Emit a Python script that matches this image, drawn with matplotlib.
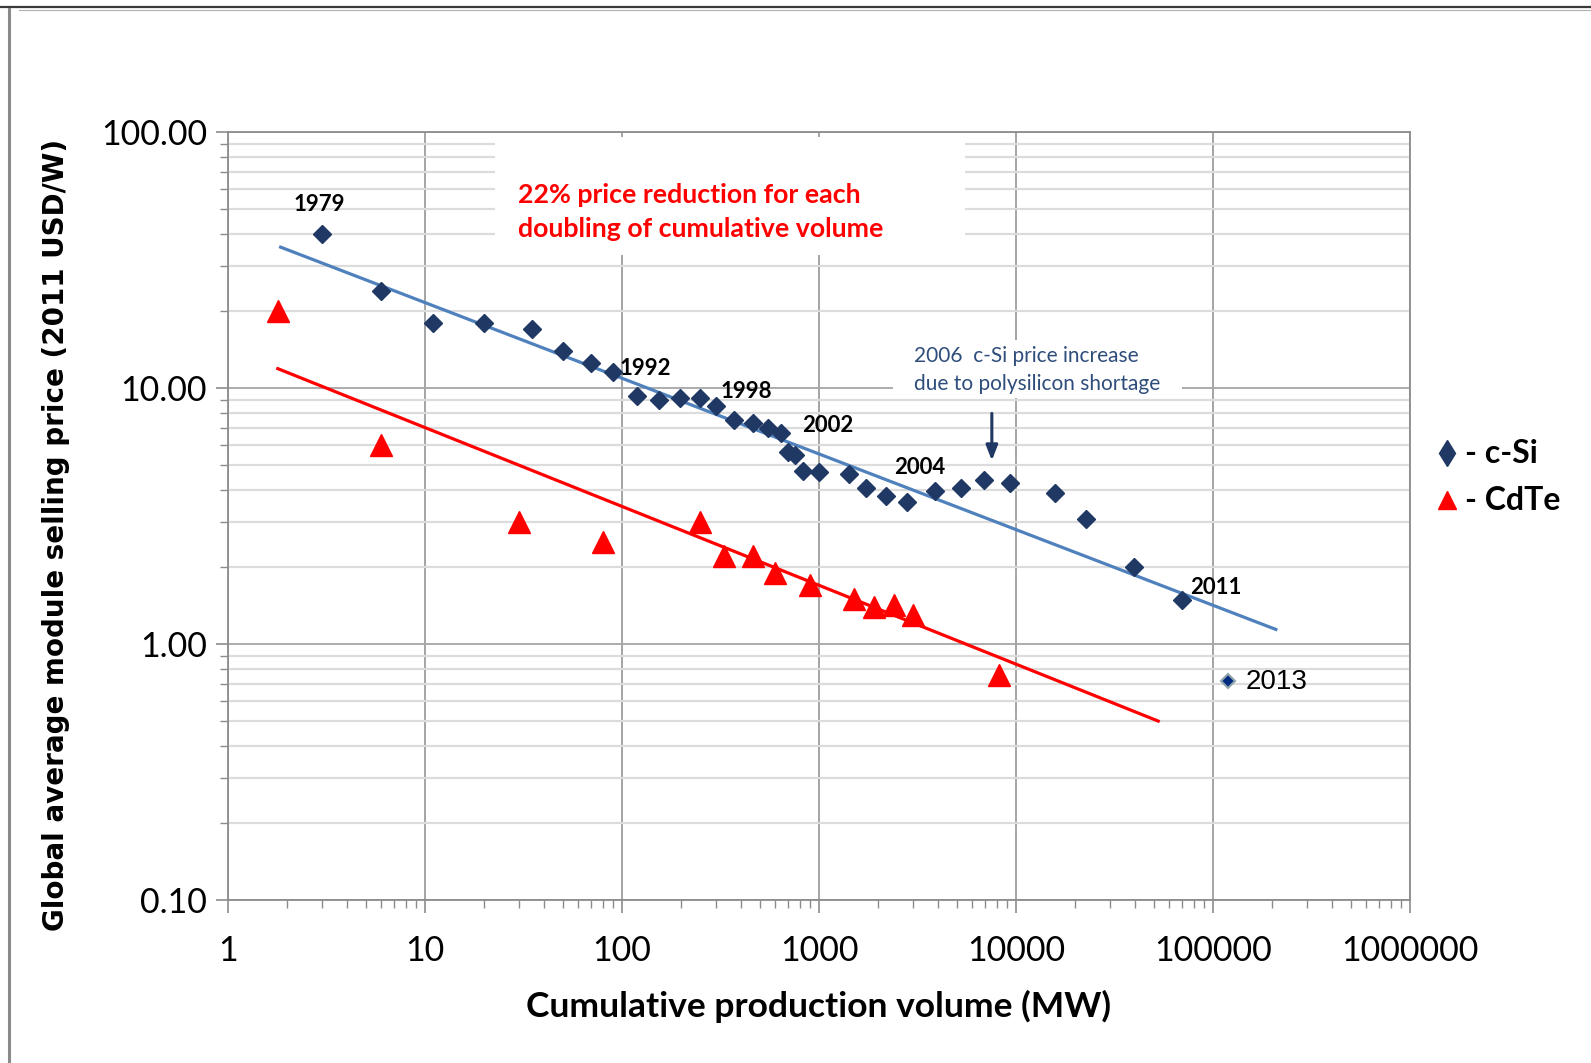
import matplotlib.pyplot as plt
from matplotlib.lines import Line2D
from matplotlib.patches import Rectangle
from matplotlib.ticker import LogLocator, FixedLocator, NullFormatter

# c-Si module prices vs cumulative production (MW, 2011 USD/W)
csi_volume = [3, 6, 11, 20, 35, 50, 70, 90, 119, 154, 198, 248, 300, 371, 465,
              549, 640, 696, 756, 831, 1000, 1417, 1734, 2197, 2786, 3880,
              5285, 6856, 9336, 15730, 22720, 39640, 69200]
csi_price = [40, 24, 18, 18, 17, 14, 12.5, 11.5, 9.3, 9.0, 9.1, 9.1, 8.5, 7.5,
             7.3, 7.0, 6.7, 5.6, 5.45, 4.76, 4.68, 4.6, 4.08, 3.79, 3.59, 3.97,
             4.08, 4.39, 4.27, 3.9, 3.07, 2.0, 1.49]
csi_2013_volume = [119500]
csi_2013_price = [0.72]

cdte_volume = [1.8, 6, 30, 80, 250, 330, 460, 600, 900, 1500, 1900, 2400, 3000, 8200]
cdte_price = [20, 6, 3, 2.5, 3, 2.2, 2.2, 1.9, 1.7, 1.5, 1.4, 1.42, 1.3, 0.76]

# learning-curve trend lines (end points)
csi_trend_x = [1.85, 208500]
csi_trend_y = [35.5, 1.14]
cdte_trend_x = [1.79, 52700]
cdte_trend_y = [11.9, 0.50]

year_labels = ["1979", "1992", "1998", "2002", "2004", "2011"]
year_x = [2.91, 130.7, 428, 1105, 3250, 103600]
year_y = [52.0, 11.97, 9.70, 7.11, 4.89, 1.667]

y_ticks = [0.1, 1, 10, 100]
y_ticklabels = ["0.10", "1.00", "10.00", "100.00"]
x_ticks = [1, 10, 100, 1000, 10000, 100000, 1000000]
x_ticklabels = ["1", "10", "100", "1000", "10000", "100000", "1000000"]

NARROW = ["Lato", "DejaVu Sans"]
NAVY = "#1F3864"

fig = plt.figure(figsize=(15.91, 10.63), dpi=100)
ax = fig.add_axes([228 / 1591, 1 - 900 / 1063, 1182 / 1591, 768 / 1063])

ax.set_xscale("log")
ax.set_yscale("log")
ax.set_xlim(1, 1e6)
ax.set_ylim(0.1, 100)

# grid
ax.yaxis.set_minor_locator(LogLocator(base=10, subs=range(2, 10)))
ax.xaxis.set_minor_locator(LogLocator(base=10, subs=range(2, 10)))
ax.yaxis.set_minor_formatter(NullFormatter())
ax.xaxis.set_minor_formatter(NullFormatter())
ax.grid(which="minor", axis="y", color="#dcdcdc", linewidth=1.6, zorder=0)
ax.grid(which="major", axis="y", color="#a6a6a6", linewidth=1.3, zorder=0)
ax.grid(which="major", axis="x", color="#8c8c8c", linewidth=1.1, zorder=0)
ax.set_axisbelow(True)

ax.xaxis.set_major_locator(FixedLocator(x_ticks))
ax.yaxis.set_major_locator(FixedLocator(y_ticks))
ax.set_xticklabels(x_ticklabels, family=NARROW, fontsize=24.5)
ax.set_yticklabels(y_ticklabels, family=NARROW, fontsize=24.5)
ax.tick_params(which="major", direction="out", length=9, width=1.2, color="#8c8c8c")
ax.tick_params(which="minor", direction="out", length=6, width=1.0, color="#8c8c8c")
ax.tick_params(axis="y", which="major", pad=6)
ax.tick_params(axis="x", which="major", pad=16)
for s in ax.spines.values():
    s.set_color("#8c8c8c")
    s.set_linewidth(1.3)

# white boxes behind the annotations
ax.add_patch(Rectangle((0.226, 0.84), 0.3975, 0.154, transform=ax.transAxes,
                       facecolor="white", edgecolor="none", zorder=1))
ax.add_patch(Rectangle((0.5626, 0.654), 0.2444, 0.075, transform=ax.transAxes,
                       facecolor="white", edgecolor="none", zorder=1))

# trend lines
ax.plot(csi_trend_x, csi_trend_y, color="#4F81BD", linewidth=2.3, zorder=3)
ax.plot(cdte_trend_x, cdte_trend_y, color="#FF0000", linewidth=2.3, zorder=3)

# data
ax.plot(csi_volume, csi_price, linestyle="none", marker="D", markersize=9,
        color=NAVY, markeredgecolor=NAVY, zorder=4)
ax.plot(cdte_volume, cdte_price, linestyle="none", marker="^", markersize=16,
        color="#FF0000", markeredgecolor="#FF0000", zorder=4)
ax.plot(csi_2013_volume, csi_2013_price, linestyle="none", marker="D", markersize=7,
        color="#002B80", markeredgecolor="#8FA3AA", markeredgewidth=1.5, zorder=4)

for lab, xv, yv in zip(year_labels, year_x, year_y):
    ax.text(xv, yv, lab, ha="center", va="center", fontsize=16, fontweight="bold",
            family=NARROW, color="black", zorder=5)
ax.text(146000, 0.713, "2013", ha="left", va="center", fontsize=20,
        family="Liberation Sans", color="black", zorder=5)

ax.text(0.245, 0.896, "22% price reduction for each\ndoubling of cumulative volume",
        transform=ax.transAxes, ha="left", va="center", fontsize=19.3,
        fontweight="bold", family=NARROW, color="#FF0000", linespacing=1.5, zorder=5)
ax.text(0.580, 0.690, "2006  c-Si price increase\ndue to polysilicon shortage",
        transform=ax.transAxes, ha="left", va="center", fontsize=15,
        family=NARROW, color="#2E4D7B", linespacing=1.5, zorder=5)
ax.annotate("", xy=(7540, 5.08), xytext=(7540, 8.16),
            arrowprops=dict(arrowstyle="-|>,head_width=0.35,head_length=0.9",
                            color=NAVY, linewidth=2.2), zorder=5)

ax.set_xlabel("Cumulative production volume (MW)", family=NARROW, fontsize=25.5,
              fontweight="bold", labelpad=17)
ax.set_ylabel("Global average module selling price (2011 USD/W)", family="DejaVu Sans",
              fontsize=20, fontweight="bold", va="center")
ax.yaxis.set_label_coords(-0.1457, 0.475)

# manual legend on the right
fig.add_artist(Line2D([0.9095], [0.5738], marker="d", markersize=13, color=NAVY,
                      linestyle="none"))
fig.text(0.921, 0.5738, "- c-Si", ha="left", va="center", fontsize=23,
         fontweight="bold", family=NARROW)
fig.add_artist(Line2D([0.9095], [0.5296], marker="^", markersize=13, color="#FF0000",
                      linestyle="none"))
fig.text(0.921, 0.5296, "- CdTe", ha="left", va="center", fontsize=23,
         fontweight="bold", family=NARROW)

# picture frame
fig.add_artist(Line2D([0, 1], [1 - 7 / 1063, 1 - 7 / 1063], color="#3a3a3a", linewidth=1.6))
fig.add_artist(Line2D([0.012, 1], [1 - 9.5 / 1063, 1 - 9.5 / 1063], color="#b0b0b0", linewidth=0.8))
fig.add_artist(Line2D([8.5 / 1591, 8.5 / 1591], [1 - 9 / 1063, 0], color="#8a8a8a", linewidth=2.2))

fig.savefig("out.png", dpi=100, facecolor="white")
